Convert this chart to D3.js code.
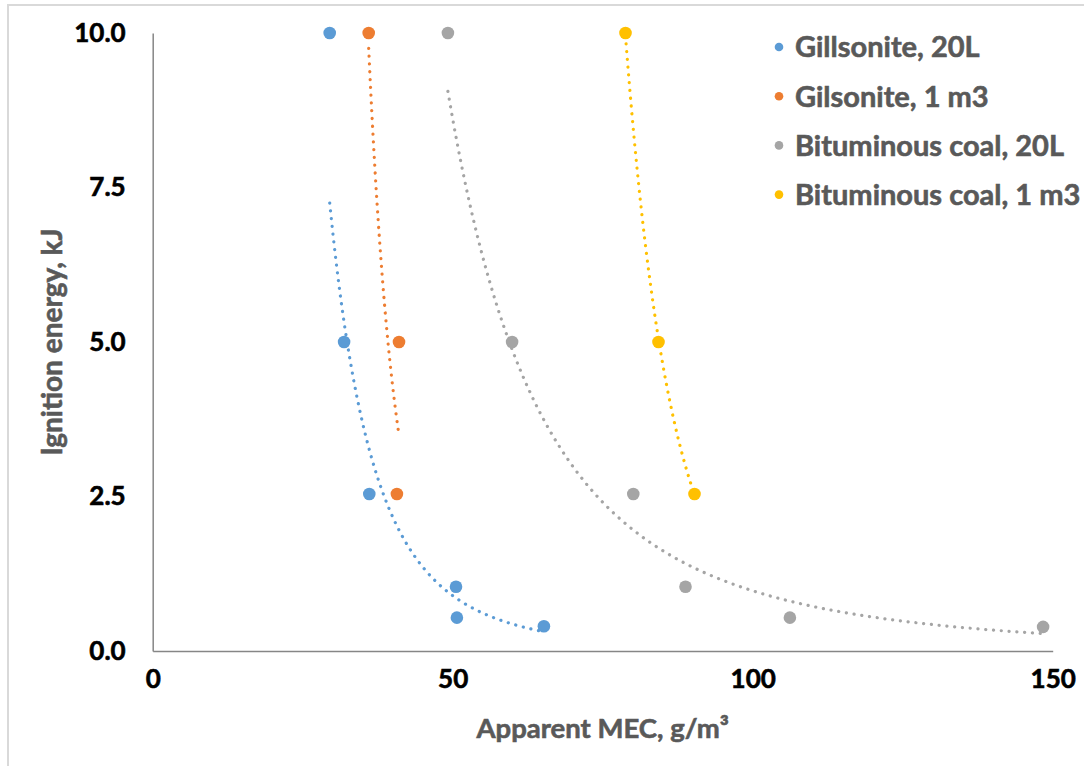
<!DOCTYPE html>
<html>
<head>
<meta charset="utf-8">
<script src="https://cdn.jsdelivr.net/npm/d3@7"></script>
<style>
  body { margin: 0; background: #fff; }
  text { font-family: Lato, "Open Sans", sans-serif; font-weight: 700; }
</style>
</head>
<body>
<script>
// values (MEC in g/m3, ignition energy in kJ)
const seriesNames = ["Gillsonite, 20L", "Gilsonite, 1 m3", "Bituminous coal, 20L", "Bituminous coal, 1 m3"];
const seriesColors = ["#5b9bd5", "#ed7d31", "#a5a5a5", "#ffc000"];

const gil20MEC = [29.5, 31.9, 36.1, 50.55, 50.7, 65.2];
const gil20E   = [10, 5, 2.54, 1.04, 0.54, 0.4];

const gil1MEC = [36, 41.05, 40.7];
const gil1E   = [10, 5, 2.54];

const coal20MEC = [49.2, 59.9, 80.1, 88.8, 106.2, 148.4];
const coal20E   = [10, 5, 2.54, 1.04, 0.54, 0.39];

const coal1MEC = [78.8, 84.3, 90.3];
const coal1E   = [10, 5, 2.54];

const xTicks = [0, 50, 100, 150];
const yTicks = [0, 2.5, 5, 7.5, 10];

const W = 1084, H = 766;
const plotL = 152.7, plotR = 1052.7, plotT = 33, plotB = 651;

const svg = d3.select("body").append("svg")
  .attr("width", W)
  .attr("height", H);

// light frame of the chart area (right / bottom edges fall outside the picture)
svg.append("rect")
  .attr("x", 8).attr("y", 5)
  .attr("width", W + 20).attr("height", H + 20)
  .attr("fill", "#fff")
  .attr("stroke", "#d9d9d9")
  .attr("stroke-width", 2);

const x = d3.scaleLinear().domain([0, 150]).range([plotL, plotR]);
const y = d3.scaleLinear().domain([0, 10]).range([plotB, plotT]);

// text a little heavier than Lato bold, closer to the original look
function heavy(sel, color) {
  sel.attr("fill", color)
    .attr("stroke", color)
    .attr("stroke-width", 0.6)
    .attr("paint-order", "stroke");
}

// axes
const xAxis = svg.append("g")
  .attr("transform", "translate(0," + plotB + ")")
  .call(d3.axisBottom(x).tickValues(xTicks).tickSize(0).tickPadding(28).tickFormat(d3.format("d")));
const yAxis = svg.append("g")
  .attr("transform", "translate(" + plotL + ",0)")
  .call(d3.axisLeft(y).tickValues(yTicks).tickSize(0).tickPadding(27).tickFormat(d3.format(".1f")));

[xAxis, yAxis].forEach(g => {
  g.select(".domain").attr("stroke", "#868686").attr("stroke-width", 1.5);
  g.selectAll("text")
    .style("font-size", "26px")
    .style("font-family", "Lato, sans-serif")
    .call(heavy, "#000");
});
xAxis.selectAll("text").attr("dy", "0.35em");

// axis titles
svg.append("text")
  .attr("x", (plotL + plotR) / 2)
  .attr("y", 738)
  .attr("text-anchor", "middle")
  .style("font-size", "27.5px")
  .call(heavy, "#595959")
  .text("Apparent MEC, g/m³");

svg.append("text")
  .attr("transform", "translate(62," + ((plotT + plotB) / 2) + ") rotate(-90)")
  .attr("text-anchor", "middle")
  .style("font-size", "28px")
  .call(heavy, "#595959")
  .text("Ignition energy, kJ");

const series = [
  { xs: gil20MEC, ys: gil20E },
  { xs: gil1MEC, ys: gil1E },
  { xs: coal20MEC, ys: coal20E },
  { xs: coal1MEC, ys: coal1E }
];

// power trendline (least squares on ln x, ln y), like the spreadsheet does
function powerFit(xs, ys) {
  const lx = xs.map(Math.log), ly = ys.map(Math.log);
  const mx = d3.mean(lx), my = d3.mean(ly);
  const b = d3.sum(lx, (v, i) => (v - mx) * (ly[i] - my)) / d3.sum(lx, v => (v - mx) * (v - mx));
  const a = Math.exp(my - b * mx);
  return v => a * Math.pow(v, b);
}

const line = d3.line().x(d => x(d[0])).y(d => y(d[1])).curve(d3.curveLinear);

series.forEach((s, i) => {
  const f = powerFit(s.xs, s.ys);
  const [x0, x1] = d3.extent(s.xs);
  const pts = d3.range(0, 201).map(k => {
    const v = x0 + (x1 - x0) * k / 200;
    return [v, f(v)];
  });
  svg.append("path")
    .attr("d", line(pts))
    .attr("fill", "none")
    .attr("stroke", seriesColors[i])
    .attr("stroke-width", 3.2)
    .attr("stroke-linecap", "round")
    .attr("stroke-dasharray", "0.1 7.7");
});

series.forEach((s, i) => {
  svg.append("g").selectAll("circle")
    .data(s.xs.map((v, k) => [v, s.ys[k]]))
    .enter()
    .append("circle")
    .attr("cx", d => x(d[0]))
    .attr("cy", d => y(d[1]))
    .attr("r", 6.3)
    .attr("fill", seriesColors[i]);
});

// legend
const legend = svg.append("g").selectAll("g")
  .data(seriesNames)
  .enter()
  .append("g")
  .attr("transform", (d, i) => "translate(779," + (47 + i * 49.2) + ")");
legend.append("circle")
  .attr("r", 4.3)
  .attr("fill", (d, i) => seriesColors[i]);
legend.append("text")
  .attr("x", 16)
  .attr("dy", "0.36em")
  .style("font-size", "29px")
  .call(heavy, "#595959")
  .text(d => d);
</script>
</body>
</html>
